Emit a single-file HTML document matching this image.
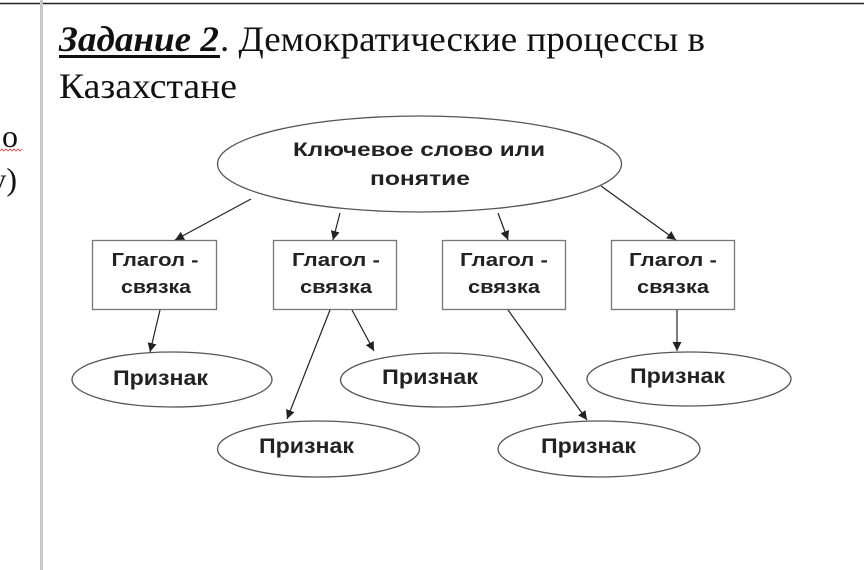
<!DOCTYPE html>
<html>
<head>
<meta charset="utf-8">
<style>
  html, body { margin: 0; padding: 0; background: #fff; }
  body { width: 864px; height: 570px; overflow: hidden; }
  svg { display: block; }
  .serif { font-family: "Liberation Serif", "Noto Serif CJK SC", serif; fill: #111; }
  .sans { font-family: "Liberation Sans", "DejaVu Sans", sans-serif; font-weight: bold; fill: #222; }
</style>
</head>
<body>
<svg width="864" height="570" viewBox="0 0 864 570" xmlns="http://www.w3.org/2000/svg">
  <defs>
    <marker id="ah" viewBox="0 0 10 10" refX="10" refY="5" markerWidth="9" markerHeight="9" markerUnits="userSpaceOnUse" orient="auto">
      <path d="M0,0 L10,5 L0,10 z" fill="#222"/>
    </marker>
  </defs>

  <!-- page frame lines -->
  <line x1="0" y1="3.5" x2="864" y2="3.5" stroke="#222" stroke-width="1.5"/>
  <rect x="40" y="0" width="3" height="570" fill="#c8c8c8"/>

  <!-- left cut-off column text -->
  <text class="serif" x="2" y="147" font-size="32">о</text>
  <path d="M0,151 l2,-2 l2,2 l2,-2 l2,2 l2,-2 l2,2 l2,-2 l2,2 l2,-2 l2,2 l2,-2" fill="none" stroke="#d04040" stroke-width="0.8"/>
  <text class="serif" x="17" y="190" font-size="32" text-anchor="end">у)</text>

  <!-- title -->
  <text class="serif" x="59" y="51" font-size="36" font-weight="bold" font-style="italic" textLength="160" lengthAdjust="spacingAndGlyphs">Задание 2</text>
  <rect x="59" y="55" width="161" height="3" fill="#111"/>
  <text class="serif" x="220" y="51" font-size="36" textLength="485" lengthAdjust="spacingAndGlyphs">. Демократические процессы в</text>
  <text class="serif" x="59" y="98" font-size="36" textLength="178" lengthAdjust="spacingAndGlyphs">Казахстане</text>

  <!-- top ellipse -->
  <ellipse cx="419.5" cy="164" rx="202" ry="48" fill="none" stroke="#555" stroke-width="1.3"/>
  <text class="sans" x="419" y="156" font-size="19" text-anchor="middle" textLength="252" lengthAdjust="spacingAndGlyphs">Ключевое слово или</text>
  <text class="sans" x="420" y="185" font-size="19" text-anchor="middle" textLength="100" lengthAdjust="spacingAndGlyphs">понятие</text>

  <!-- boxes -->
  <g fill="none" stroke="#777" stroke-width="1.3">
    <rect x="92.5" y="240.5" width="124" height="69"/>
    <rect x="273.5" y="240.5" width="123" height="69"/>
    <rect x="442.5" y="240.5" width="123" height="69"/>
    <rect x="611.5" y="240.5" width="123" height="69"/>
  </g>
  <g class="sans" font-size="18" text-anchor="middle">
    <text x="155" y="266" textLength="87" lengthAdjust="spacingAndGlyphs">Глагол -</text>
    <text x="156" y="293" textLength="70" lengthAdjust="spacingAndGlyphs">связка</text>
    <text x="336" y="266" textLength="88" lengthAdjust="spacingAndGlyphs">Глагол -</text>
    <text x="336" y="293" textLength="72" lengthAdjust="spacingAndGlyphs">связка</text>
    <text x="504" y="266" textLength="88" lengthAdjust="spacingAndGlyphs">Глагол -</text>
    <text x="504" y="293" textLength="72" lengthAdjust="spacingAndGlyphs">связка</text>
    <text x="673" y="266" textLength="88" lengthAdjust="spacingAndGlyphs">Глагол -</text>
    <text x="673" y="293" textLength="72" lengthAdjust="spacingAndGlyphs">связка</text>
  </g>

  <!-- arrows -->
  <g stroke="#222" stroke-width="1.2" fill="none" marker-end="url(#ah)">
    <line x1="251" y1="199" x2="175" y2="240"/>
    <line x1="340" y1="213" x2="333" y2="240"/>
    <line x1="498" y1="213" x2="508" y2="240"/>
    <line x1="601" y1="186" x2="676" y2="240"/>
    <line x1="160" y1="310" x2="150" y2="352"/>
    <line x1="330" y1="310" x2="287" y2="419"/>
    <line x1="352" y1="310" x2="374" y2="351"/>
    <line x1="508" y1="310" x2="587" y2="420"/>
    <line x1="677" y1="310" x2="677" y2="351"/>
  </g>

  <!-- attribute ellipses -->
  <g fill="none" stroke="#555" stroke-width="1.3">
    <ellipse cx="172" cy="379.5" rx="100" ry="27.5"/>
    <ellipse cx="441.5" cy="380" rx="101" ry="27"/>
    <ellipse cx="318.5" cy="449" rx="101" ry="28"/>
    <ellipse cx="599" cy="449" rx="101" ry="28"/>
    <ellipse cx="689" cy="379" rx="102" ry="27"/>
  </g>
  <g class="sans" font-size="21" text-anchor="middle">
    <text x="160.5" y="385" textLength="95" lengthAdjust="spacingAndGlyphs">Признак</text>
    <text x="430" y="384" textLength="96" lengthAdjust="spacingAndGlyphs">Признак</text>
    <text x="306.5" y="453" textLength="95" lengthAdjust="spacingAndGlyphs">Признак</text>
    <text x="588.5" y="453" textLength="95" lengthAdjust="spacingAndGlyphs">Признак</text>
    <text x="677.5" y="383" textLength="95" lengthAdjust="spacingAndGlyphs">Признак</text>
  </g>
</svg>
</body>
</html>
